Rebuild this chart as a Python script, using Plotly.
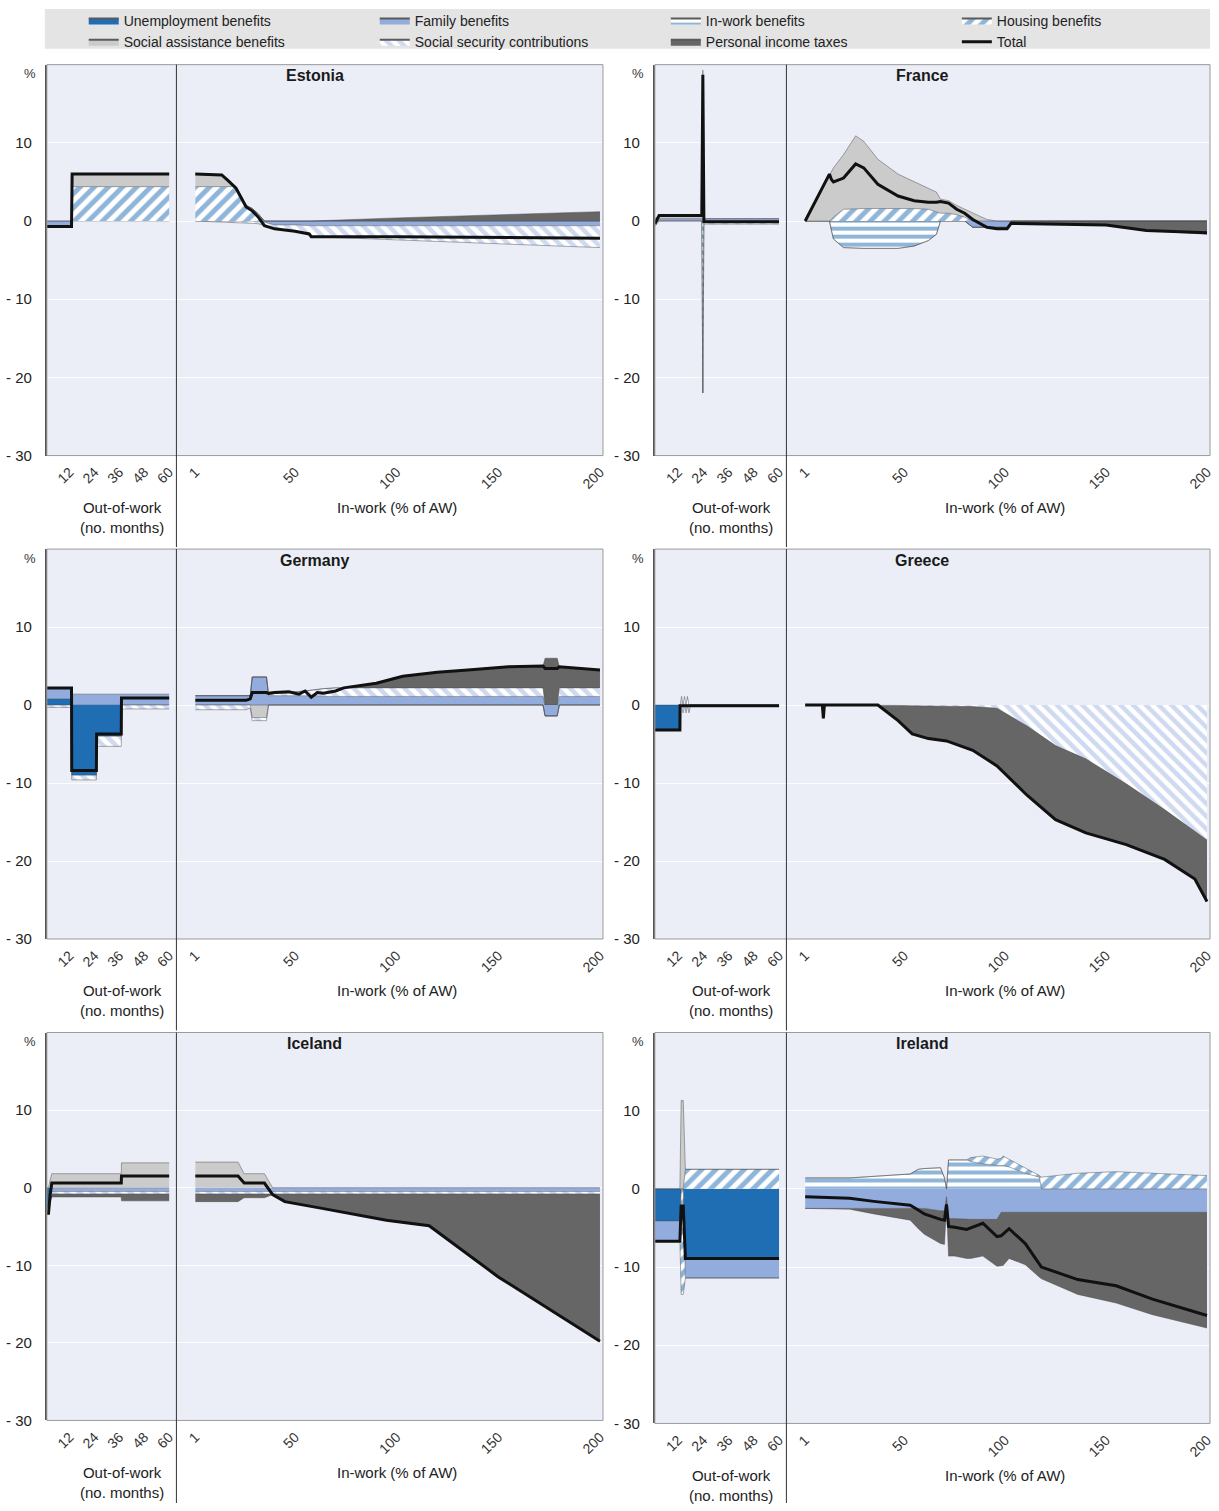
import plotly.graph_objects as go

W, H = 1219, 1511

# ---------------- categories / ticks ----------------
COMP_NAMES = ["Unemployment benefits", "Family benefits", "In-work benefits", "Housing benefits",
              "Social assistance benefits", "Social security contributions", "Personal income taxes"]
TOTAL_NAME = "Total"
LEGEND_COLUMNS = [["Unemployment benefits", "Social assistance benefits"],
                  ["Family benefits", "Social security contributions"],
                  ["In-work benefits", "Personal income taxes"],
                  ["Housing benefits", "Total"]]
COUNTRIES = ["Estonia", "France", "Germany", "Greece", "Iceland", "Ireland"]
OUT_TICKS = [12, 24, 36, 48, 60]
IN_TICKS = [1, 50, 100, 150, 200]
Y_TICKS = [10, 0, -10, -20, -30]
Y_TICKTEXT = ["10", "0", "- 10", "- 20", "- 30"]

# ---------------- Estonia ----------------
EE_OUT_X = [1, 12.9, 13.2, 60]
EE_OUT_FAM = [-0.7, -0.7, 0, 0]
EE_OUT_HOU = [0, 0, 4.4, 4.4]
EE_OUT_SA = [0, 0, 1.6, 1.6]
EE_OUT_TOT = [-0.7, -0.7, 6.0, 6.0]

EE_IN_X = [1, 14, 17, 21, 26, 29, 32, 35, 40, 50, 57, 58, 100, 150, 200]
EE_IN_FAM = [0, 0, 0, 0, 0, 0, 0, -0.15, -0.5, -0.5, -0.6, -0.6, -0.6, -0.6, -0.6]
EE_IN_HOU = [4.4, 4.4, 4.4, 4.4, 2.0, 1.6, 0.9, 0, 0, 0, 0, 0, 0, 0, 0]
EE_IN_SA = [1.6, 1.5, 0.9, 0, 0, 0, 0, 0, 0, 0, 0, 0, 0, 0, 0]
EE_IN_SSC = [0, -0.1, -0.15, -0.2, -0.25, -0.3, -0.35, -0.45, -0.5, -0.8, -1.05, -1.4, -1.8, -2.3, -2.8]
EE_IN_PIT = [0, 0, 0, 0, 0, 0, 0, 0, 0, 0, 0, 0, 0.4, 0.8, 1.2]
EE_IN_TOT = [6.0, 5.9, 5.2, 4.2, 1.8, 1.3, 0.5, -0.6, -1.0, -1.3, -1.65, -2.0, -2.0, -2.1, -2.2]

# ---------------- France ----------------
FR_OUT_X = [1, 3, 23.3, 23.8, 24.3, 60]
FR_OUT_FAM = [0.3, 0.3, 0.3, 0.3, 0.3, 0.3]
FR_OUT_IWB = [0, 0, 0, -22.0, 0, 0]
FR_OUT_SA = [0, 0.4, 0.4, 19.0, 0, 0]
FR_OUT_SSC = [-0.7, 0, 0, 0, -0.4, -0.4]
FR_OUT_TOT = [-0.4, 0.7, 0.7, 18.7, -0.1, -0.1]

FR_IN_X = [1, 13, 14, 15, 20, 26, 30, 37, 47, 55, 62, 66, 68, 72, 76, 80, 84, 88, 91, 96, 101, 103, 120, 150, 170, 200]
FR_IN_HOU = [0, 0, 0.2, 0.5, 1.5, 1.6, 1.6, 1.6, 1.6, 1.6, 1.5, 1.2, 1.0, 1.0, 0.8, 0.5, 0, 0, 0, 0, 0, 0, 0, 0, 0, 0]
FR_IN_SA = [0, 6.0, 6.2, 6.3, 7.0, 9.3, 8.6, 6.3, 4.4, 3.4, 2.6, 2.5, 1.8, 1.6, 1.2, 1.0, 1.0, 0.5, 0.2, 0, 0, 0, 0, 0, 0, 0]
FR_IN_IWB = [0, 0, -1.2, -2.3, -3.4, -3.5, -3.5, -3.5, -3.5, -3.2, -2.5, -1.7, 0, 0, 0, 0, 0, 0, 0, 0, 0, 0, 0, 0, 0, 0]
FR_IN_FAM = [0, 0, 0, 0, 0, 0, 0, 0, 0, 0, 0, 0, 0, 0, 0, 0, -0.8, -0.8, -0.8, -0.8, -0.8, 0, 0, 0, 0, 0]
FR_IN_PIT = [0, 0, 0, 0, 0, 0, 0, 0, 0, 0, 0, 0, 0, 0, 0, 0, 0, 0, 0, 0, 0, -0.2, -0.3, -0.5, -1.2, -1.7]
FR_IN_TOT = [0, 6.0, 5.3, 5.0, 5.5, 7.3, 6.8, 4.7, 3.2, 2.6, 2.4, 2.4, 2.5, 2.3, 1.5, 1.0, 0.2, -0.4, -0.8, -1.0,
             -1.0, -0.3, -0.4, -0.5, -1.2, -1.5]

# ---------------- Germany ----------------
DE_OUT_X = [1, 12.9, 13, 24.9, 25, 36.9, 37, 60]
DE_OUT_UNE = [0.8, 0.8, -9.0, -9.0, -4.0, -4.0, 0, 0]
DE_OUT_FAM = [1.4, 1.4, 1.4, 1.4, 1.4, 1.4, 1.4, 1.4]
DE_OUT_SSC = [-0.3, -0.3, -0.6, -0.6, -1.3, -1.3, -0.5, -0.5]
DE_OUT_TOT = [2.2, 2.2, -8.4, -8.4, -3.7, -3.7, 0.9, 0.9]

DE_IN_X = [1, 26, 28, 29, 36, 37, 40, 47, 52, 55, 58, 61, 64, 70, 74, 90, 103, 120, 135, 155, 172, 173, 179, 180, 200]
DE_IN_FAM = [1.2, 1.2, 1.2, 3.6, 3.6, 1.2, 1.2, 1.2, 1.2, 1.2, 1.2, 1.2, 1.1, 1.1, 1.1, 1.1, 1.1, 1.1, 1.1, 1.1,
             1.1, -1.4, -1.4, 1.1, 1.1]
DE_IN_SA = [0, 0, 0, -1.6, -1.6, 0, 0, 0, 0, 0, 0, 0, 0, 0, 0, 0, 0, 0, 0, 0, 0, 0, 0, 0, 0]
DE_IN_SSC = [-0.6, -0.6, -0.4, -0.4, -0.4, 0.2, 0.3, 0.4, 0.5, 0.6, 0.7, 0.8, 1.0, 1.1, 1.1, 1.1, 1.1, 1.1, 1.1,
             1.1, 1.1, 0, 0, 1.1, 1.1]
DE_IN_PIT = [0, 0, 0, 0, 0, 0, 0, 0, 0, 0, 0, 0, 0, 0, 0, 0.6, 1.5, 2.0, 2.3, 2.7, 2.8, 6.0, 6.0, 2.7, 2.3]
DE_IN_TOT = [0.6, 0.6, 0.8, 1.6, 1.6, 1.5, 1.6, 1.7, 1.4, 1.8, 1.0, 1.6, 1.5, 1.8, 2.2, 2.8, 3.7, 4.2, 4.5, 4.9,
             5.0, 4.7, 4.7, 4.9, 4.5]

# ---------------- Greece ----------------
GR_OUT_X = [1, 12.9, 13, 13.7, 14.4, 15.1, 15.8, 16.5, 17.2, 18, 60]
GR_OUT_UNE = [-3.2, -3.2, 0, 0, 0, 0, 0, 0, 0, 0, 0]
GR_OUT_SSC = [0, 0, 0, 1.1, -1.0, 1.1, -1.0, 1.1, -1.0, 0, 0]
GR_OUT_TOT = [-3.2, -3.2, -0.1, -0.1, -0.1, -0.1, -0.1, -0.1, -0.1, -0.1, -0.1]

GR_IN_X = [1, 8, 9.5, 10, 10.5, 12, 37, 47, 54, 62, 71, 84, 96, 111, 125, 140, 160, 179, 194, 200]
GR_IN_SSC = [0, 0, 0, 0, 0, 0, 0, -0.05, -0.1, -0.1, -0.15, -0.2, -0.4, -2.7, -5.2, -6.9, -10.1, -13.4, -16.2, -17.3]
GR_IN_PIT = [0, 0, 0, -1.7, 0, 0, 0, -1.95, -3.6, -4.2, -4.45, -5.6, -7.4, -8.9, -9.5, -9.5, -7.8, -6.4, -6.1, -7.9]
GR_IN_TOT = [0, 0, 0, -1.7, 0, 0, 0, -2.0, -3.7, -4.3, -4.6, -5.8, -7.8, -11.6, -14.7, -16.4, -17.9, -19.8, -22.3,
             -25.2]

# ---------------- Iceland ----------------
IS_OUT_X = [1, 1.8, 2.6, 3.4, 36.9, 37, 60]
IS_OUT_UNE = [-2.5, -2.5, -0.8, 0, 0, 0, 0]
IS_OUT_FAM = [-0.5, -0.5, -0.5, -0.5, -0.5, -0.5, -0.5]
IS_OUT_SA = [0, 0, 1.0, 1.8, 1.8, 3.2, 3.2]
IS_OUT_SSC = [-0.3, -0.3, -0.3, -0.3, -0.3, -0.3, -0.3]
IS_OUT_PIT = [0, 0, -0.3, -0.4, -0.4, -0.9, -0.9]
IS_OUT_TOT = [-3.3, -3.3, -0.9, 0.6, 0.6, 1.5, 1.5]

IS_IN_X = [1, 22, 25, 35, 39, 45, 64, 95, 116, 150, 200]
IS_IN_FAM = [-0.5, -0.5, -0.5, -0.5, -0.5, -0.5, -0.5, -0.5, -0.5, -0.5, -0.5]
IS_IN_SA = [3.3, 3.3, 1.8, 1.8, 0, 0, 0, 0, 0, 0, 0]
IS_IN_SSC = [-0.3, -0.3, -0.3, -0.3, -0.3, -0.3, -0.3, -0.3, -0.3, -0.3, -0.3]
IS_IN_PIT = [-1.0, -1.0, -0.5, -0.5, -0.1, -1.0, -1.9, -3.4, -4.1, -10.7, -19.0]
IS_IN_TOT = [1.5, 1.5, 0.6, 0.6, -0.9, -1.8, -2.7, -4.2, -4.9, -11.5, -19.8]

# ---------------- Ireland ----------------
IE_OUT_X = [1, 12.9, 13.5, 14.5, 15.5, 60]
IE_OUT_UNE = [-4.1, -4.1, 0, 0, -8.9, -8.9]
IE_OUT_FAM = [-2.6, -2.6, 0, 0, -2.5, -2.5]
IE_OUT_HOU = [0, 0, -13.5, -13.5, 2.5, 2.5]
IE_OUT_SA = [0, 0, 11.3, 11.3, 0, 0]
IE_OUT_TOT = [-6.7, -6.7, -2.2, -2.2, -8.9, -8.9]

IE_IN_X = [1, 23, 35, 53, 57, 60, 68, 70, 71, 72, 75, 81, 83, 89, 96, 98, 99, 102, 110, 117, 118, 136, 155, 173, 200]
IE_IN_IWB = [1.4, 1.4, 1.6, 1.9, 2.5, 2.6, 2.7, 1.4, 0, 3.7, 3.7, 3.7, 3.5, 3.2, 3.0, 3.0, 3.0, 2.8, 2.0, 1.5,
             0, 0, 0, 0, 0]
IE_IN_HOU = [0, 0, 0, 0, 0, 0, 0, 0, 0, 0, 0, 0, 0.5, 1.0, 0.8, 0.9, 1.2, 1.0, 0.7, 0.2, 1.5, 2.0, 2.2, 2.0, 1.7]
IE_IN_FAM = [-2.5, -2.5, -2.5, -2.5, -2.5, -2.5, -2.8, -2.8, -1.0, -3.8, -3.8, -3.9, -3.9, -3.9, -3.9, -3.0, -3.0,
             -3.0, -3.0, -3.0, -3.0, -3.0, -3.0, -3.0, -3.0]
IE_IN_PIT = [0, -0.1, -0.7, -1.5, -2.6, -3.3, -4.2, -4.3, -1.0, -4.8, -4.8, -5.0, -5.0, -4.7, -6.0, -6.8, -6.8,
             -5.9, -6.7, -8.3, -8.5, -10.5, -11.6, -13.1, -14.8]
IE_IN_TOT = [-1.0, -1.2, -1.6, -2.1, -2.7, -3.2, -3.9, -4.0, -2.0, -4.8, -4.9, -5.2, -5.0, -4.4, -6.1, -6.0, -5.8,
             -5.1, -7.0, -9.5, -10.0, -11.6, -12.4, -14.1, -16.2]

# ---------------- styles ----------------
FONT = "Liberation Sans Narrow, Arial Narrow, Liberation Sans, Arial, sans-serif"
BOLD_FONT = "Liberation Sans, Arial, sans-serif"
PLOT_BG = "#ebeef7"
EDGE = "rgba(70,70,70,0.75)"
BLUE = "#1f6db3"
STYLE = {
    "Unemployment benefits": dict(fillcolor=BLUE),
    "Family benefits": dict(fillcolor="#93acde"),
    "In-work benefits": dict(pattern=dict(shape="-", fgcolor=BLUE, bgcolor="white", size=8, solidity=0.5)),
    "Housing benefits": dict(pattern=dict(shape="/", fgcolor=BLUE, bgcolor="white", size=10, solidity=0.5)),
    "Social assistance benefits": dict(fillcolor="#cbcbcb"),
    "Social security contributions": dict(pattern=dict(shape="\\", fgcolor="#9fb4e2", bgcolor="white", size=9,
                                                       solidity=0.5)),
    "Personal income taxes": dict(fillcolor="#666666"),
}

UNE, FAM, IWB, HOU, SA, SSC, PIT = COMP_NAMES

PANELS = [
    dict(name="Estonia", geom=(47, 177, 605, 65, 458),
         out=dict(x=EE_OUT_X, comps={FAM: EE_OUT_FAM, HOU: EE_OUT_HOU, SA: EE_OUT_SA}, total=EE_OUT_TOT),
         inw=dict(x=EE_IN_X, comps={FAM: EE_IN_FAM, HOU: EE_IN_HOU, SA: EE_IN_SA, SSC: EE_IN_SSC, PIT: EE_IN_PIT},
                  total=EE_IN_TOT)),
    dict(name="France", geom=(657, 789, 1214, 65, 458),
         out=dict(x=FR_OUT_X, comps={FAM: FR_OUT_FAM, IWB: FR_OUT_IWB, SA: FR_OUT_SA, SSC: FR_OUT_SSC},
                  total=FR_OUT_TOT),
         inw=dict(x=FR_IN_X, comps={FAM: FR_IN_FAM, IWB: FR_IN_IWB, HOU: FR_IN_HOU, SA: FR_IN_SA, PIT: FR_IN_PIT},
                  total=FR_IN_TOT)),
    dict(name="Germany", geom=(47, 177, 605, 552, 944),
         out=dict(x=DE_OUT_X, comps={UNE: DE_OUT_UNE, FAM: DE_OUT_FAM, SSC: DE_OUT_SSC}, total=DE_OUT_TOT),
         inw=dict(x=DE_IN_X, comps={FAM: DE_IN_FAM, SA: DE_IN_SA, SSC: DE_IN_SSC, PIT: DE_IN_PIT},
                  total=DE_IN_TOT)),
    dict(name="Greece", geom=(657, 789, 1214, 552, 944),
         out=dict(x=GR_OUT_X, comps={UNE: GR_OUT_UNE, SSC: GR_OUT_SSC}, total=GR_OUT_TOT),
         inw=dict(x=GR_IN_X, comps={SSC: GR_IN_SSC, PIT: GR_IN_PIT}, total=GR_IN_TOT)),
    dict(name="Iceland", geom=(47, 177, 605, 1038, 1428),
         out=dict(x=IS_OUT_X, comps={UNE: IS_OUT_UNE, FAM: IS_OUT_FAM, SA: IS_OUT_SA, SSC: IS_OUT_SSC,
                                      PIT: IS_OUT_PIT}, total=IS_OUT_TOT),
         inw=dict(x=IS_IN_X, comps={FAM: IS_IN_FAM, SA: IS_IN_SA, SSC: IS_IN_SSC, PIT: IS_IN_PIT},
                  total=IS_IN_TOT)),
    dict(name="Ireland", geom=(657, 789, 1214, 1038, 1431),
         out=dict(x=IE_OUT_X, comps={UNE: IE_OUT_UNE, FAM: IE_OUT_FAM, HOU: IE_OUT_HOU, SA: IE_OUT_SA},
                  total=IE_OUT_TOT),
         inw=dict(x=IE_IN_X, comps={FAM: IE_IN_FAM, IWB: IE_IN_IWB, HOU: IE_IN_HOU, PIT: IE_IN_PIT},
                  total=IE_IN_TOT)),
]

fig = go.Figure()


def axname(prefix, k):
    return prefix if k == 1 else f"{prefix}{k}"


def fill_kw(name):
    st = STYLE[name]
    if "pattern" in st:
        return dict(fillcolor="white", fillpattern=st["pattern"])
    return dict(fillcolor=st["fillcolor"])


# legend entries (dummy traces, no data), one vertical legend per column
LEGEND_X_PX = [84, 376, 668, 960]
legend_layouts = {}
for ci, col in enumerate(LEGEND_COLUMNS):
    lname = "legend" if ci == 0 else f"legend{ci + 1}"
    legend_layouts[lname] = dict(orientation="v", x=LEGEND_X_PX[ci] / W, y=1 - 5 / H, xanchor="left",
                                 yanchor="top", bgcolor="rgba(0,0,0,0)", traceorder="normal",
                                 font=dict(family=FONT, size=14, color="#222"), itemwidth=30,
                                 tracegroupgap=0)
    for ri, name in enumerate(col):
        if name == TOTAL_NAME:
            fig.add_trace(go.Scatter(x=[None], y=[None], mode="lines", name=name, legend=lname,
                                     line=dict(width=3, color="#111"), legendrank=ri + 1))
        else:
            fig.add_trace(go.Scatter(x=[None], y=[None], mode="lines", fill="toself", name=name, legend=lname,
                                     line=dict(width=2, color="#5a5a5a"), legendrank=ri + 1, **fill_kw(name)))

layout_axes = {}
shapes = []
annotations = []

for pi, p in enumerate(PANELS):
    l, d, r, t, b = p["geom"]
    k_out, k_in = 2 * pi + 1, 2 * pi + 2
    for sec, k in (("out", k_out), ("inw", k_in)):
        xa, ya = axname("x", k), axname("y", k)
        data = p[sec]
        for name in COMP_NAMES:
            vals = data["comps"].get(name)
            if vals is None:
                continue
            parts = (("pos", [max(v, 0) for v in vals]), ("neg", [min(v, 0) for v in vals]))
            for sign, part in parts:
                if not any(part):
                    continue
                fig.add_trace(go.Scatter(x=data["x"], y=part, xaxis=xa, yaxis=ya, mode="lines",
                                         stackgroup=f"{sign}{k}", line=dict(width=0.6, color=EDGE),
                                         showlegend=False, hoverinfo="skip", name=name, **fill_kw(name)))
        fig.add_trace(go.Scatter(x=data["x"], y=data["total"], xaxis=xa, yaxis=ya, mode="lines",
                                 line=dict(color="#111", width=3), showlegend=False, hoverinfo="skip",
                                 name=TOTAL_NAME))

    ydom = [1 - b / H, 1 - t / H]
    tickfont_x = dict(size=14, color="#333", family=FONT)
    layout_axes["xaxis" + ("" if k_out == 1 else str(k_out))] = dict(
        domain=[l / W, d / W], anchor=axname("y", k_out), range=[1, 63.5], tickmode="array",
        tickvals=OUT_TICKS, tickangle=-45, showgrid=False, zeroline=False, showline=False,
        ticks="outside", ticklen=2, tickcolor="rgba(0,0,0,0)", tickfont=tickfont_x, fixedrange=True)
    layout_axes["xaxis" + str(k_in)] = dict(
        domain=[d / W, r / W], anchor=axname("y", k_in), range=[-8.3, 201.5], tickmode="array",
        tickvals=IN_TICKS, tickangle=-45, showgrid=False, zeroline=False, showline=False,
        ticks="outside", ticklen=2, tickcolor="rgba(0,0,0,0)", tickfont=tickfont_x, fixedrange=True)
    layout_axes["yaxis" + ("" if k_out == 1 else str(k_out))] = dict(
        domain=ydom, anchor=axname("x", k_out), range=[-30, 20], tickmode="array", tickvals=Y_TICKS,
        ticktext=Y_TICKTEXT, showgrid=True, gridcolor="rgba(255,255,255,0.8)", gridwidth=1, zeroline=False,
        showline=True, linecolor="#555", linewidth=2, ticks="outside", ticklen=10,
        tickcolor="rgba(0,0,0,0)", tickfont=dict(size=15, color="#222", family=FONT), fixedrange=True)
    layout_axes["yaxis" + str(k_in)] = dict(
        domain=ydom, anchor=axname("x", k_in), range=[-30, 20], tickmode="array", tickvals=Y_TICKS,
        showticklabels=False, showgrid=True, gridcolor="rgba(255,255,255,0.8)", gridwidth=1, zeroline=False,
        showline=False, fixedrange=True)

    # panel frame and divider
    shapes.append(dict(type="rect", xref="paper", yref="paper", x0=l / W, x1=r / W, y0=1 - b / H, y1=1 - t / H,
                       line=dict(color="#9a9a9a", width=1), fillcolor="rgba(0,0,0,0)", layer="above"))
    bottom_div = min(b + 92, H)
    shapes.append(dict(type="line", xref="paper", yref="paper", x0=d / W, x1=d / W, y0=1 - bottom_div / H,
                       y1=1 - t / H, line=dict(color="#333", width=1), layer="above"))
    # titles and labels
    annotations.append(dict(xref="paper", yref="paper", x=((l + r) / 2 - 10) / W, y=1 - (t + 11) / H,
                            text=f"<b>{p['name']}</b>", showarrow=False, xanchor="center", yanchor="middle",
                            font=dict(family=BOLD_FONT, size=16, color="#1a1a1a")))
    annotations.append(dict(xref="paper", yref="paper", x=(l - 17) / W, y=1 - (t + 9) / H, text="%",
                            showarrow=False, xanchor="center", yanchor="middle",
                            font=dict(family=FONT, size=13, color="#333")))
    annotations.append(dict(xref="paper", yref="paper", x=((l + d) / 2 + 10) / W, y=1 - (b + 62) / H,
                            text="Out-of-work<br>(no. months)", showarrow=False, xanchor="center",
                            yanchor="middle", align="center",
                            font=dict(family=FONT, size=15, color="#222")))
    annotations.append(dict(xref="paper", yref="paper", x=((d + r) / 2 + 7) / W, y=1 - (b + 52) / H,
                            text="In-work (% of AW)", showarrow=False, xanchor="center", yanchor="middle",
                            font=dict(family=FONT, size=15, color="#222")))

# legend background band
shapes.append(dict(type="rect", xref="paper", yref="paper", x0=45 / W, x1=1214 / W, y0=1 - 49 / H, y1=1 - 9 / H,
                   line=dict(width=0), fillcolor="#e4e4e4", layer="below"))

fig.update_layout(
    width=W, height=H,
    margin=dict(l=0, r=0, t=0, b=0),
    paper_bgcolor="white",
    plot_bgcolor=PLOT_BG,
    font=dict(family=FONT, size=14, color="#222"),
    showlegend=True,
    shapes=shapes,
    annotations=annotations,
    **legend_layouts,
    **layout_axes,
)

fig.write_html("out.html", post_script="document.body.style.margin='0px';",
               config={"displayModeBar": False})
